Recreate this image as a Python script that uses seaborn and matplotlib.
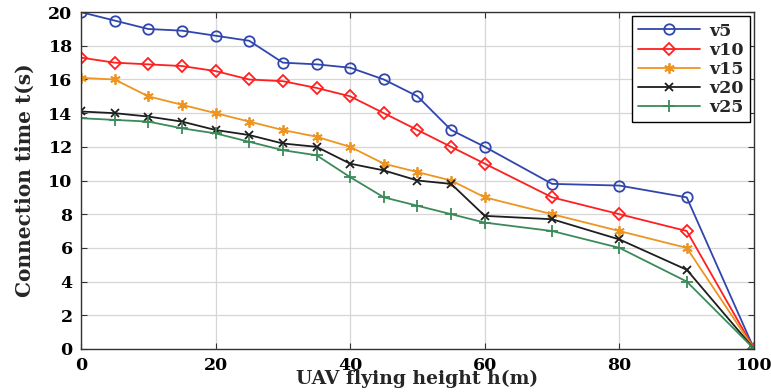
import matplotlib
matplotlib.use("Agg")
import matplotlib.pyplot as plt
import seaborn as sns
import pandas as pd

heights = [0, 5, 10, 15, 20, 25, 30, 35, 40, 45, 50, 55, 60, 70, 80, 90, 100]
v5  = [20, 19.5, 19, 18.9, 18.6, 18.3, 17, 16.9, 16.7, 16, 15, 13, 12, 9.8, 9.7, 9, 0]
v10 = [17.3, 17, 16.9, 16.8, 16.5, 16, 15.9, 15.5, 15, 14, 13, 12, 11, 9, 8, 7, 0]
v15 = [16.1, 16, 15, 14.5, 14, 13.5, 13, 12.6, 12, 11, 10.5, 10, 9, 8, 7, 6, 0]
v20 = [14.1, 14, 13.8, 13.5, 13, 12.7, 12.2, 12, 11, 10.6, 10, 9.8, 7.9, 7.7, 6.5, 4.7, 0]
v25 = [13.7, 13.6, 13.5, 13.1, 12.8, 12.3, 11.8, 11.5, 10.2, 9, 8.5, 8, 7.5, 7, 6, 4, 0]
series_names = ["v5", "v10", "v15", "v20", "v25"]
series_values = [v5, v10, v15, v20, v25]

colors = ["#3046ad", "#ff1f1f", "#ee9420", "#1e1e1e", "#3c8a5a"]
markers = ["o", "D", (6, 2, 0), "x", "+"]
msizes = [7.5, 6.5, 7.5, 5.5, 8]

sns.set_theme(style="whitegrid")
plt.rcParams["font.family"] = ["DejaVu Serif"]
plt.rcParams["font.weight"] = "bold"

fig = plt.figure(figsize=(7.71, 3.92), dpi=100)
ax = fig.add_axes([0.105, 0.110, 0.873, 0.859])

for name, vals, c, m, ms in zip(series_names, series_values, colors, markers, msizes):
    df = pd.DataFrame({"h": heights, "t": vals})
    sns.lineplot(data=df, x="h", y="t", ax=ax, color=c, marker=m, markersize=ms,
                 markerfacecolor="none", markeredgecolor=c, markeredgewidth=1.3,
                 linewidth=1.3, label=name)

ax.set_xlim(0, 100)
ax.set_ylim(0, 20)
ax.set_xticks([0, 20, 40, 60, 80, 100])
ax.set_yticks(list(range(0, 21, 2)))
ax.grid(True, color="#d6d6d6", linewidth=0.9)
for s in ax.spines.values():
    s.set_visible(True)
    s.set_color("#333333")
    s.set_linewidth(1.0)
ax.tick_params(axis="both", direction="in", length=4, width=0.8, colors="#333333",
               labelcolor="black", labelsize=12.5, top=True, right=True, bottom=True, left=True)
ax.tick_params(axis="y", pad=6)
ax.tick_params(axis="x", pad=6)
for lab in ax.get_xticklabels() + ax.get_yticklabels():
    lab.set_fontweight("bold")

ax.set_xlabel("UAV flying height h(m)", fontsize=13.5, fontweight="bold", labelpad=-3)
ax.set_ylabel("Connection time t(s)", fontsize=14.5, fontweight="bold", labelpad=10)

leg = ax.legend(loc="upper right", frameon=True, fancybox=False,
                edgecolor="black", framealpha=1, handlelength=3.6, borderpad=0.35,
                labelspacing=0.12, borderaxespad=0.25, handletextpad=0.5,
                prop={"weight": "bold", "size": 12.5})
leg.get_frame().set_linewidth(1.0)

fig.savefig("out.png", dpi=100)
